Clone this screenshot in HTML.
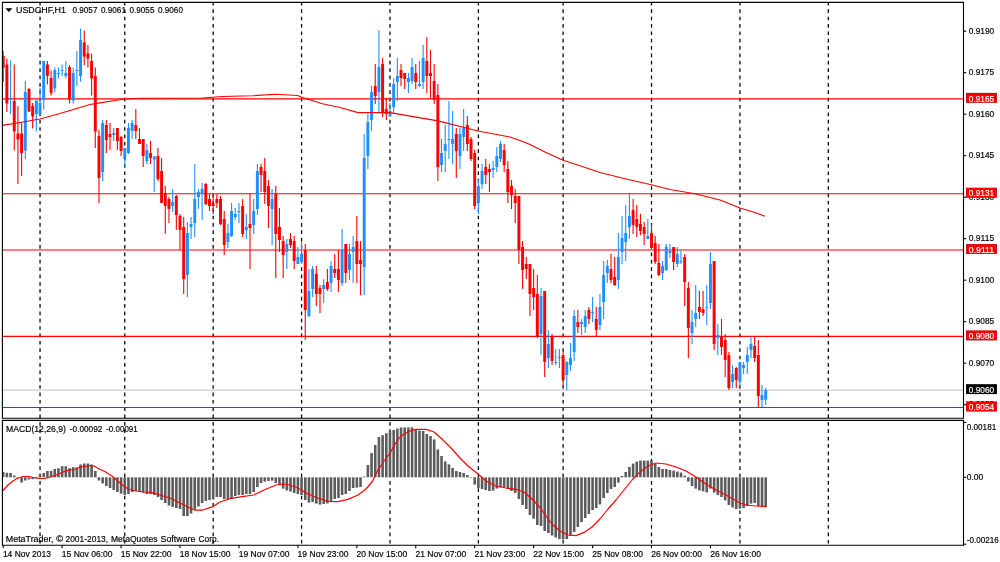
<!DOCTYPE html>
<html><head><meta charset="utf-8"><title>USDCHF,H1</title>
<style>html,body{margin:0;padding:0;background:#fff;overflow:hidden}svg{display:block}</style></head>
<body>
<svg width="1000" height="562" viewBox="0 0 1000 562">
<rect width="1000" height="562" fill="#fff"/>
<g stroke="#000" stroke-width="1.25" stroke-dasharray="3.685 3.685" fill="none">
<path d="M40.04 1.9V545.2"/>
<path d="M124.76 1.9V545.2"/>
<path d="M213.17 1.9V545.2"/>
<path d="M301.57 1.9V545.2"/>
<path d="M389.98 1.9V545.2"/>
<path d="M478.38 1.9V545.2"/>
<path d="M563.11 1.9V545.2"/>
<path d="M651.51 1.9V545.2"/>
<path d="M739.92 1.9V545.2"/>
<path d="M828.33 1.9V545.2"/>
</g>
<rect x="0" y="418.2" width="963.5" height="2.2" fill="#fff"/>
<g stroke="#ff0000" stroke-width="1.1" fill="none">
<path d="M2.4 98.9H963.5"/>
<path d="M2.4 193.8H963.5"/>
<path d="M2.4 250.0H963.5"/>
<path d="M2.4 336.4H963.5"/>
<path d="M2.4 407.5H963.5"/>
</g>
<path d="M2.4 390.1H963.5" stroke="#c0c0c0" stroke-width="1"/>
<clipPath id="cp"><rect x="2.9" y="2.4" width="960.6" height="542.8000000000001"/></clipPath>
<g clip-path="url(#cp)">
<path d="M3.20 51.0V82.0" stroke="#ff0000" stroke-width="1.1"/>
<rect x="1.73" y="56.0" width="2.94" height="12.0" fill="#ff0000"/>
<path d="M6.88 58.5V112.0" stroke="#ff0000" stroke-width="1.1"/>
<rect x="5.41" y="64.5" width="2.94" height="39.0" fill="#ff0000"/>
<path d="M10.57 60.5V114.0" stroke="#1e90ff" stroke-width="1.1"/>
<rect x="9.10" y="98.0" width="2.94" height="1.2" fill="#1e90ff"/>
<path d="M14.25 64.5V150.5" stroke="#ff0000" stroke-width="1.1"/>
<rect x="12.78" y="101.0" width="2.94" height="30.5" fill="#ff0000"/>
<path d="M17.93 106.0V184.0" stroke="#ff0000" stroke-width="1.1"/>
<rect x="16.46" y="133.5" width="2.94" height="6.0" fill="#ff0000"/>
<path d="M21.62 122.5V176.0" stroke="#ff0000" stroke-width="1.1"/>
<rect x="20.15" y="133.5" width="2.94" height="19.5" fill="#ff0000"/>
<path d="M25.30 81.0V159.0" stroke="#1e90ff" stroke-width="1.1"/>
<rect x="23.83" y="92.0" width="2.94" height="58.5" fill="#1e90ff"/>
<path d="M28.99 88.0V112.0" stroke="#ff0000" stroke-width="1.1"/>
<rect x="27.52" y="89.0" width="2.94" height="22.5" fill="#ff0000"/>
<path d="M32.67 103.0V128.5" stroke="#ff0000" stroke-width="1.1"/>
<rect x="31.20" y="106.0" width="2.94" height="10.5" fill="#ff0000"/>
<path d="M36.35 100.5V131.5" stroke="#1e90ff" stroke-width="1.1"/>
<rect x="34.88" y="100.5" width="2.94" height="13.5" fill="#1e90ff"/>
<path d="M40.04 88.0V115.0" stroke="#1e90ff" stroke-width="1.1"/>
<rect x="38.57" y="103.0" width="2.94" height="11.5" fill="#1e90ff"/>
<path d="M43.72 61.0V109.5" stroke="#1e90ff" stroke-width="1.1"/>
<rect x="42.25" y="61.0" width="2.94" height="39.0" fill="#1e90ff"/>
<path d="M47.40 61.0V84.5" stroke="#ff0000" stroke-width="1.1"/>
<rect x="45.93" y="64.5" width="2.94" height="11.5" fill="#ff0000"/>
<path d="M51.09 70.5V95.5" stroke="#ff0000" stroke-width="1.1"/>
<rect x="49.62" y="78.0" width="2.94" height="15.0" fill="#ff0000"/>
<path d="M54.77 67.5V92.5" stroke="#1e90ff" stroke-width="1.1"/>
<rect x="53.30" y="70.0" width="2.94" height="18.5" fill="#1e90ff"/>
<path d="M58.45 67.5V78.5" stroke="#1e90ff" stroke-width="1.1"/>
<rect x="56.98" y="73.0" width="2.94" height="1.0" fill="#1e90ff"/>
<path d="M62.14 64.5V76.0" stroke="#1e90ff" stroke-width="1.1"/>
<rect x="60.67" y="70.0" width="2.94" height="1.0" fill="#1e90ff"/>
<path d="M65.82 61.0V78.5" stroke="#1e90ff" stroke-width="1.1"/>
<rect x="64.35" y="73.0" width="2.94" height="3.0" fill="#1e90ff"/>
<path d="M69.50 65.0V103.5" stroke="#ff0000" stroke-width="1.1"/>
<rect x="68.03" y="67.0" width="2.94" height="32.5" fill="#ff0000"/>
<path d="M73.19 67.5V103.5" stroke="#1e90ff" stroke-width="1.1"/>
<rect x="71.72" y="73.0" width="2.94" height="27.5" fill="#1e90ff"/>
<path d="M76.87 51.0V86.0" stroke="#1e90ff" stroke-width="1.1"/>
<rect x="75.40" y="70.0" width="2.94" height="1.0" fill="#1e90ff"/>
<path d="M80.56 28.5V81.5" stroke="#1e90ff" stroke-width="1.1"/>
<rect x="79.09" y="40.0" width="2.94" height="36.0" fill="#1e90ff"/>
<path d="M84.24 30.5V65.0" stroke="#ff0000" stroke-width="1.1"/>
<rect x="82.77" y="42.5" width="2.94" height="14.0" fill="#ff0000"/>
<path d="M87.92 45.0V67.5" stroke="#ff0000" stroke-width="1.1"/>
<rect x="86.45" y="53.5" width="2.94" height="5.0" fill="#ff0000"/>
<path d="M91.61 53.5V95.5" stroke="#ff0000" stroke-width="1.1"/>
<rect x="90.14" y="61.0" width="2.94" height="17.5" fill="#ff0000"/>
<path d="M95.29 67.5V148.0" stroke="#ff0000" stroke-width="1.1"/>
<rect x="93.82" y="76.0" width="2.94" height="55.5" fill="#ff0000"/>
<path d="M98.97 130.0V203.0" stroke="#ff0000" stroke-width="1.1"/>
<rect x="97.50" y="136.0" width="2.94" height="42.0" fill="#ff0000"/>
<path d="M102.66 120.0V181.0" stroke="#1e90ff" stroke-width="1.1"/>
<rect x="101.19" y="123.0" width="2.94" height="49.0" fill="#1e90ff"/>
<path d="M106.34 120.0V153.0" stroke="#ff0000" stroke-width="1.1"/>
<rect x="104.87" y="125.0" width="2.94" height="15.0" fill="#ff0000"/>
<path d="M110.02 123.0V150.0" stroke="#ff0000" stroke-width="1.1"/>
<rect x="108.55" y="134.0" width="2.94" height="3.0" fill="#ff0000"/>
<path d="M113.71 128.0V141.0" stroke="#1e90ff" stroke-width="1.1"/>
<rect x="112.24" y="133.0" width="2.94" height="2.0" fill="#1e90ff"/>
<path d="M117.39 128.0V150.0" stroke="#ff0000" stroke-width="1.1"/>
<rect x="115.92" y="128.0" width="2.94" height="13.0" fill="#ff0000"/>
<path d="M121.08 136.0V156.0" stroke="#ff0000" stroke-width="1.1"/>
<rect x="119.61" y="137.0" width="2.94" height="14.0" fill="#ff0000"/>
<path d="M124.76 148.0V166.0" stroke="#1e90ff" stroke-width="1.1"/>
<rect x="123.29" y="148.0" width="2.94" height="11.0" fill="#1e90ff"/>
<path d="M128.44 123.0V154.0" stroke="#1e90ff" stroke-width="1.1"/>
<rect x="126.97" y="128.0" width="2.94" height="25.0" fill="#1e90ff"/>
<path d="M132.13 120.0V139.0" stroke="#1e90ff" stroke-width="1.1"/>
<rect x="130.66" y="123.0" width="2.94" height="8.0" fill="#1e90ff"/>
<path d="M135.81 109.0V139.0" stroke="#ff0000" stroke-width="1.1"/>
<rect x="134.34" y="125.0" width="2.94" height="6.0" fill="#ff0000"/>
<path d="M139.49 128.0V144.0" stroke="#ff0000" stroke-width="1.1"/>
<rect x="138.02" y="139.0" width="2.94" height="5.0" fill="#ff0000"/>
<path d="M143.18 139.0V167.0" stroke="#ff0000" stroke-width="1.1"/>
<rect x="141.71" y="139.0" width="2.94" height="17.0" fill="#ff0000"/>
<path d="M146.86 144.0V164.0" stroke="#1e90ff" stroke-width="1.1"/>
<rect x="145.39" y="150.0" width="2.94" height="11.0" fill="#1e90ff"/>
<path d="M150.54 141.0V164.0" stroke="#ff0000" stroke-width="1.1"/>
<rect x="149.07" y="153.0" width="2.94" height="5.0" fill="#ff0000"/>
<path d="M154.23 156.0V192.0" stroke="#1e90ff" stroke-width="1.1"/>
<rect x="152.76" y="156.5" width="2.94" height="3.0" fill="#1e90ff"/>
<path d="M157.91 148.0V181.0" stroke="#ff0000" stroke-width="1.1"/>
<rect x="156.44" y="156.0" width="2.94" height="23.0" fill="#ff0000"/>
<path d="M161.59 158.0V203.0" stroke="#ff0000" stroke-width="1.1"/>
<rect x="160.12" y="171.0" width="2.94" height="32.0" fill="#ff0000"/>
<path d="M165.28 186.0V234.0" stroke="#ff0000" stroke-width="1.1"/>
<rect x="163.81" y="193.0" width="2.94" height="13.0" fill="#ff0000"/>
<path d="M168.96 197.0V223.0" stroke="#ff0000" stroke-width="1.1"/>
<rect x="167.49" y="199.0" width="2.94" height="10.0" fill="#ff0000"/>
<path d="M172.65 189.0V212.0" stroke="#1e90ff" stroke-width="1.1"/>
<rect x="171.18" y="202.0" width="2.94" height="4.0" fill="#1e90ff"/>
<path d="M176.33 195.0V230.0" stroke="#ff0000" stroke-width="1.1"/>
<rect x="174.86" y="196.0" width="2.94" height="19.0" fill="#ff0000"/>
<path d="M180.01 214.0V250.0" stroke="#ff0000" stroke-width="1.1"/>
<rect x="178.54" y="216.0" width="2.94" height="14.0" fill="#ff0000"/>
<path d="M183.70 217.0V294.0" stroke="#ff0000" stroke-width="1.1"/>
<rect x="182.23" y="227.0" width="2.94" height="52.0" fill="#ff0000"/>
<path d="M187.38 222.0V297.0" stroke="#1e90ff" stroke-width="1.1"/>
<rect x="185.91" y="233.0" width="2.94" height="42.0" fill="#1e90ff"/>
<path d="M191.06 217.0V239.0" stroke="#1e90ff" stroke-width="1.1"/>
<rect x="189.59" y="224.0" width="2.94" height="3.0" fill="#1e90ff"/>
<path d="M194.75 164.0V237.0" stroke="#1e90ff" stroke-width="1.1"/>
<rect x="193.28" y="199.0" width="2.94" height="24.0" fill="#1e90ff"/>
<path d="M198.43 189.0V209.0" stroke="#1e90ff" stroke-width="1.1"/>
<rect x="196.96" y="192.0" width="2.94" height="5.0" fill="#1e90ff"/>
<path d="M202.11 183.0V220.0" stroke="#1e90ff" stroke-width="1.1"/>
<rect x="200.64" y="189.0" width="2.94" height="5.0" fill="#1e90ff"/>
<path d="M205.80 183.0V205.0" stroke="#ff0000" stroke-width="1.1"/>
<rect x="204.33" y="184.0" width="2.94" height="20.0" fill="#ff0000"/>
<path d="M209.48 194.0V211.0" stroke="#ff0000" stroke-width="1.1"/>
<rect x="208.01" y="199.0" width="2.94" height="7.0" fill="#ff0000"/>
<path d="M213.17 194.0V214.0" stroke="#ff0000" stroke-width="1.1"/>
<rect x="211.70" y="203.0" width="2.94" height="3.0" fill="#ff0000"/>
<path d="M216.85 194.0V208.0" stroke="#ff0000" stroke-width="1.1"/>
<rect x="215.38" y="199.0" width="2.94" height="4.0" fill="#ff0000"/>
<path d="M220.53 196.0V225.0" stroke="#ff0000" stroke-width="1.1"/>
<rect x="219.06" y="199.0" width="2.94" height="25.0" fill="#ff0000"/>
<path d="M224.22 211.0V255.0" stroke="#ff0000" stroke-width="1.1"/>
<rect x="222.75" y="219.0" width="2.94" height="26.0" fill="#ff0000"/>
<path d="M227.90 224.0V248.0" stroke="#1e90ff" stroke-width="1.1"/>
<rect x="226.43" y="233.0" width="2.94" height="9.0" fill="#1e90ff"/>
<path d="M231.58 203.0V237.0" stroke="#1e90ff" stroke-width="1.1"/>
<rect x="230.11" y="211.0" width="2.94" height="25.0" fill="#1e90ff"/>
<path d="M235.27 208.0V220.0" stroke="#1e90ff" stroke-width="1.1"/>
<rect x="233.80" y="214.0" width="2.94" height="3.0" fill="#1e90ff"/>
<path d="M238.95 203.0V223.0" stroke="#1e90ff" stroke-width="1.1"/>
<rect x="237.48" y="211.0" width="2.94" height="1.0" fill="#1e90ff"/>
<path d="M242.63 199.0V237.0" stroke="#ff0000" stroke-width="1.1"/>
<rect x="241.16" y="206.0" width="2.94" height="28.0" fill="#ff0000"/>
<path d="M246.32 214.0V239.0" stroke="#1e90ff" stroke-width="1.1"/>
<rect x="244.85" y="227.0" width="2.94" height="3.0" fill="#1e90ff"/>
<path d="M250.00 193.6V269.0" stroke="#ff0000" stroke-width="1.1"/>
<rect x="248.53" y="224.0" width="2.94" height="4.0" fill="#ff0000"/>
<path d="M253.68 199.0V234.0" stroke="#1e90ff" stroke-width="1.1"/>
<rect x="252.21" y="211.0" width="2.94" height="14.0" fill="#1e90ff"/>
<path d="M257.37 164.0V215.0" stroke="#1e90ff" stroke-width="1.1"/>
<rect x="255.90" y="171.0" width="2.94" height="38.0" fill="#1e90ff"/>
<path d="M261.05 164.0V192.0" stroke="#ff0000" stroke-width="1.1"/>
<rect x="259.58" y="167.0" width="2.94" height="8.0" fill="#ff0000"/>
<path d="M264.74 158.0V204.0" stroke="#ff0000" stroke-width="1.1"/>
<rect x="263.27" y="171.0" width="2.94" height="21.0" fill="#ff0000"/>
<path d="M268.42 180.0V228.0" stroke="#ff0000" stroke-width="1.1"/>
<rect x="266.95" y="186.0" width="2.94" height="20.0" fill="#ff0000"/>
<path d="M272.10 189.0V245.0" stroke="#1e90ff" stroke-width="1.1"/>
<rect x="270.63" y="199.0" width="2.94" height="10.0" fill="#1e90ff"/>
<path d="M275.79 186.0V278.0" stroke="#ff0000" stroke-width="1.1"/>
<rect x="274.32" y="193.6" width="2.94" height="40.4" fill="#ff0000"/>
<path d="M279.47 208.0V252.0" stroke="#ff0000" stroke-width="1.1"/>
<rect x="278.00" y="227.0" width="2.94" height="13.0" fill="#ff0000"/>
<path d="M283.15 236.0V278.0" stroke="#ff0000" stroke-width="1.1"/>
<rect x="281.68" y="241.0" width="2.94" height="14.0" fill="#ff0000"/>
<path d="M286.84 239.0V269.0" stroke="#1e90ff" stroke-width="1.1"/>
<rect x="285.37" y="244.0" width="2.94" height="8.0" fill="#1e90ff"/>
<path d="M290.52 233.0V248.0" stroke="#ff0000" stroke-width="1.1"/>
<rect x="289.05" y="239.0" width="2.94" height="6.0" fill="#ff0000"/>
<path d="M294.20 236.0V269.0" stroke="#ff0000" stroke-width="1.1"/>
<rect x="292.73" y="241.0" width="2.94" height="20.0" fill="#ff0000"/>
<path d="M297.89 247.0V264.0" stroke="#1e90ff" stroke-width="1.1"/>
<rect x="296.42" y="257.0" width="2.94" height="7.0" fill="#1e90ff"/>
<path d="M301.57 241.0V263.0" stroke="#1e90ff" stroke-width="1.1"/>
<rect x="300.10" y="254.0" width="2.94" height="8.0" fill="#1e90ff"/>
<path d="M305.26 244.0V340.0" stroke="#ff0000" stroke-width="1.1"/>
<rect x="303.79" y="250.0" width="2.94" height="60.0" fill="#ff0000"/>
<path d="M308.94 269.0V317.0" stroke="#1e90ff" stroke-width="1.1"/>
<rect x="307.47" y="291.0" width="2.94" height="25.0" fill="#1e90ff"/>
<path d="M312.62 266.0V297.0" stroke="#1e90ff" stroke-width="1.1"/>
<rect x="311.15" y="269.0" width="2.94" height="20.0" fill="#1e90ff"/>
<path d="M316.31 266.0V306.0" stroke="#ff0000" stroke-width="1.1"/>
<rect x="314.84" y="274.0" width="2.94" height="20.0" fill="#ff0000"/>
<path d="M319.99 285.0V313.0" stroke="#ff0000" stroke-width="1.1"/>
<rect x="318.52" y="288.0" width="2.94" height="6.0" fill="#ff0000"/>
<path d="M323.67 279.0V303.0" stroke="#1e90ff" stroke-width="1.1"/>
<rect x="322.20" y="285.0" width="2.94" height="4.0" fill="#1e90ff"/>
<path d="M327.36 269.0V291.0" stroke="#ff0000" stroke-width="1.1"/>
<rect x="325.89" y="282.0" width="2.94" height="7.0" fill="#ff0000"/>
<path d="M331.04 261.0V292.0" stroke="#1e90ff" stroke-width="1.1"/>
<rect x="329.57" y="266.0" width="2.94" height="17.0" fill="#1e90ff"/>
<path d="M334.72 254.0V278.0" stroke="#ff0000" stroke-width="1.1"/>
<rect x="333.25" y="269.0" width="2.94" height="4.0" fill="#ff0000"/>
<path d="M338.41 250.0V292.0" stroke="#ff0000" stroke-width="1.1"/>
<rect x="336.94" y="269.0" width="2.94" height="11.0" fill="#ff0000"/>
<path d="M342.09 229.0V286.0" stroke="#1e90ff" stroke-width="1.1"/>
<rect x="340.62" y="250.0" width="2.94" height="33.0" fill="#1e90ff"/>
<path d="M345.77 244.0V283.0" stroke="#ff0000" stroke-width="1.1"/>
<rect x="344.30" y="244.0" width="2.94" height="29.0" fill="#ff0000"/>
<path d="M349.46 244.0V280.0" stroke="#1e90ff" stroke-width="1.1"/>
<rect x="347.99" y="254.0" width="2.94" height="16.0" fill="#1e90ff"/>
<path d="M353.14 236.0V283.0" stroke="#1e90ff" stroke-width="1.1"/>
<rect x="351.67" y="247.0" width="2.94" height="5.0" fill="#1e90ff"/>
<path d="M356.83 216.0V283.0" stroke="#ff0000" stroke-width="1.1"/>
<rect x="355.36" y="241.0" width="2.94" height="23.0" fill="#ff0000"/>
<path d="M360.51 241.0V295.0" stroke="#ff0000" stroke-width="1.1"/>
<rect x="359.04" y="260.0" width="2.94" height="4.0" fill="#ff0000"/>
<path d="M364.19 134.0V295.0" stroke="#1e90ff" stroke-width="1.1"/>
<rect x="362.72" y="158.0" width="2.94" height="109.0" fill="#1e90ff"/>
<path d="M367.88 114.0V169.0" stroke="#1e90ff" stroke-width="1.1"/>
<rect x="366.41" y="122.0" width="2.94" height="34.0" fill="#1e90ff"/>
<path d="M371.56 86.0V131.0" stroke="#1e90ff" stroke-width="1.1"/>
<rect x="370.09" y="92.0" width="2.94" height="28.0" fill="#1e90ff"/>
<path d="M375.24 64.0V104.0" stroke="#ff0000" stroke-width="1.1"/>
<rect x="373.77" y="86.0" width="2.94" height="10.0" fill="#ff0000"/>
<path d="M378.93 30.0V112.0" stroke="#1e90ff" stroke-width="1.1"/>
<rect x="377.46" y="67.0" width="2.94" height="25.0" fill="#1e90ff"/>
<path d="M382.61 58.0V117.0" stroke="#ff0000" stroke-width="1.1"/>
<rect x="381.14" y="64.0" width="2.94" height="49.0" fill="#ff0000"/>
<path d="M386.29 98.0V120.0" stroke="#ff0000" stroke-width="1.1"/>
<rect x="384.82" y="109.0" width="2.94" height="5.0" fill="#ff0000"/>
<path d="M389.98 103.0V117.0" stroke="#1e90ff" stroke-width="1.1"/>
<rect x="388.51" y="111.0" width="2.94" height="5.0" fill="#1e90ff"/>
<path d="M393.66 78.0V113.0" stroke="#1e90ff" stroke-width="1.1"/>
<rect x="392.19" y="84.0" width="2.94" height="23.0" fill="#1e90ff"/>
<path d="M397.35 58.0V101.0" stroke="#1e90ff" stroke-width="1.1"/>
<rect x="395.88" y="76.0" width="2.94" height="6.0" fill="#1e90ff"/>
<path d="M401.03 64.0V86.0" stroke="#ff0000" stroke-width="1.1"/>
<rect x="399.56" y="70.0" width="2.94" height="8.0" fill="#ff0000"/>
<path d="M404.71 73.0V89.0" stroke="#ff0000" stroke-width="1.1"/>
<rect x="403.24" y="73.0" width="2.94" height="6.0" fill="#ff0000"/>
<path d="M408.40 73.0V93.0" stroke="#1e90ff" stroke-width="1.1"/>
<rect x="406.93" y="78.0" width="2.94" height="4.0" fill="#1e90ff"/>
<path d="M412.08 58.0V84.0" stroke="#1e90ff" stroke-width="1.1"/>
<rect x="410.61" y="67.0" width="2.94" height="14.0" fill="#1e90ff"/>
<path d="M415.76 64.0V89.0" stroke="#ff0000" stroke-width="1.1"/>
<rect x="414.29" y="73.0" width="2.94" height="9.0" fill="#ff0000"/>
<path d="M419.45 61.0V87.0" stroke="#1e90ff" stroke-width="1.1"/>
<rect x="417.98" y="84.0" width="2.94" height="2.0" fill="#1e90ff"/>
<path d="M423.13 45.0V89.0" stroke="#1e90ff" stroke-width="1.1"/>
<rect x="421.66" y="58.0" width="2.94" height="24.0" fill="#1e90ff"/>
<path d="M426.81 37.0V93.0" stroke="#ff0000" stroke-width="1.1"/>
<rect x="425.34" y="61.0" width="2.94" height="15.0" fill="#ff0000"/>
<path d="M430.50 50.0V99.0" stroke="#ff0000" stroke-width="1.1"/>
<rect x="429.03" y="73.0" width="2.94" height="3.0" fill="#ff0000"/>
<path d="M434.18 64.0V104.0" stroke="#ff0000" stroke-width="1.1"/>
<rect x="432.71" y="81.0" width="2.94" height="19.0" fill="#ff0000"/>
<path d="M437.86 84.0V181.0" stroke="#ff0000" stroke-width="1.1"/>
<rect x="436.39" y="95.0" width="2.94" height="72.0" fill="#ff0000"/>
<path d="M441.55 139.0V172.0" stroke="#1e90ff" stroke-width="1.1"/>
<rect x="440.08" y="153.0" width="2.94" height="12.0" fill="#1e90ff"/>
<path d="M445.23 125.0V172.0" stroke="#1e90ff" stroke-width="1.1"/>
<rect x="443.76" y="144.0" width="2.94" height="7.0" fill="#1e90ff"/>
<path d="M448.92 101.0V159.0" stroke="#1e90ff" stroke-width="1.1"/>
<rect x="447.45" y="139.0" width="2.94" height="1.0" fill="#1e90ff"/>
<path d="M452.60 111.0V164.0" stroke="#1e90ff" stroke-width="1.1"/>
<rect x="451.13" y="139.0" width="2.94" height="5.0" fill="#1e90ff"/>
<path d="M456.28 128.0V178.0" stroke="#ff0000" stroke-width="1.1"/>
<rect x="454.81" y="134.0" width="2.94" height="17.0" fill="#ff0000"/>
<path d="M459.97 128.0V169.0" stroke="#1e90ff" stroke-width="1.1"/>
<rect x="458.50" y="134.0" width="2.94" height="22.0" fill="#1e90ff"/>
<path d="M463.65 109.0V151.0" stroke="#1e90ff" stroke-width="1.1"/>
<rect x="462.18" y="128.0" width="2.94" height="9.0" fill="#1e90ff"/>
<path d="M467.33 116.0V151.0" stroke="#ff0000" stroke-width="1.1"/>
<rect x="465.86" y="125.0" width="2.94" height="19.0" fill="#ff0000"/>
<path d="M471.02 137.0V161.0" stroke="#ff0000" stroke-width="1.1"/>
<rect x="469.55" y="139.0" width="2.94" height="20.0" fill="#ff0000"/>
<path d="M474.70 150.0V209.0" stroke="#ff0000" stroke-width="1.1"/>
<rect x="473.23" y="153.0" width="2.94" height="53.0" fill="#ff0000"/>
<path d="M478.38 180.0V214.0" stroke="#1e90ff" stroke-width="1.1"/>
<rect x="476.91" y="186.0" width="2.94" height="17.0" fill="#1e90ff"/>
<path d="M482.07 164.0V189.0" stroke="#1e90ff" stroke-width="1.1"/>
<rect x="480.60" y="171.0" width="2.94" height="13.0" fill="#1e90ff"/>
<path d="M485.75 159.0V184.0" stroke="#ff0000" stroke-width="1.1"/>
<rect x="484.28" y="167.0" width="2.94" height="8.0" fill="#ff0000"/>
<path d="M489.44 164.0V192.0" stroke="#ff0000" stroke-width="1.1"/>
<rect x="487.97" y="169.0" width="2.94" height="3.0" fill="#ff0000"/>
<path d="M493.12 161.0V178.0" stroke="#1e90ff" stroke-width="1.1"/>
<rect x="491.65" y="168.0" width="2.94" height="2.0" fill="#1e90ff"/>
<path d="M496.80 147.0V172.0" stroke="#1e90ff" stroke-width="1.1"/>
<rect x="495.33" y="156.0" width="2.94" height="11.0" fill="#1e90ff"/>
<path d="M500.49 141.0V162.0" stroke="#1e90ff" stroke-width="1.1"/>
<rect x="499.02" y="144.0" width="2.94" height="15.0" fill="#1e90ff"/>
<path d="M504.17 144.0V172.0" stroke="#ff0000" stroke-width="1.1"/>
<rect x="502.70" y="150.0" width="2.94" height="15.0" fill="#ff0000"/>
<path d="M507.85 161.0V203.0" stroke="#ff0000" stroke-width="1.1"/>
<rect x="506.38" y="169.0" width="2.94" height="23.0" fill="#ff0000"/>
<path d="M511.54 180.0V209.0" stroke="#ff0000" stroke-width="1.1"/>
<rect x="510.07" y="186.0" width="2.94" height="9.0" fill="#ff0000"/>
<path d="M515.22 189.0V223.0" stroke="#ff0000" stroke-width="1.1"/>
<rect x="513.75" y="196.0" width="2.94" height="7.0" fill="#ff0000"/>
<path d="M518.90 196.0V264.0" stroke="#ff0000" stroke-width="1.1"/>
<rect x="517.43" y="196.0" width="2.94" height="54.0" fill="#ff0000"/>
<path d="M522.59 241.0V289.0" stroke="#ff0000" stroke-width="1.1"/>
<rect x="521.12" y="247.0" width="2.94" height="23.0" fill="#ff0000"/>
<path d="M526.27 257.0V279.0" stroke="#ff0000" stroke-width="1.1"/>
<rect x="524.80" y="264.0" width="2.94" height="5.0" fill="#ff0000"/>
<path d="M529.95 264.0V316.0" stroke="#ff0000" stroke-width="1.1"/>
<rect x="528.48" y="264.0" width="2.94" height="30.0" fill="#ff0000"/>
<path d="M533.64 269.0V310.0" stroke="#ff0000" stroke-width="1.1"/>
<rect x="532.17" y="288.0" width="2.94" height="9.0" fill="#ff0000"/>
<path d="M537.32 275.0V338.0" stroke="#ff0000" stroke-width="1.1"/>
<rect x="535.85" y="294.0" width="2.94" height="43.0" fill="#ff0000"/>
<path d="M541.01 288.0V355.0" stroke="#1e90ff" stroke-width="1.1"/>
<rect x="539.54" y="296.0" width="2.94" height="38.0" fill="#1e90ff"/>
<path d="M544.69 291.0V377.0" stroke="#ff0000" stroke-width="1.1"/>
<rect x="543.22" y="291.0" width="2.94" height="71.0" fill="#ff0000"/>
<path d="M548.37 330.0V368.0" stroke="#1e90ff" stroke-width="1.1"/>
<rect x="546.90" y="344.0" width="2.94" height="14.0" fill="#1e90ff"/>
<path d="M552.06 334.0V365.0" stroke="#ff0000" stroke-width="1.1"/>
<rect x="550.59" y="336.0" width="2.94" height="25.0" fill="#ff0000"/>
<path d="M555.74 349.0V365.0" stroke="#1e90ff" stroke-width="1.1"/>
<rect x="554.27" y="362.0" width="2.94" height="1.0" fill="#1e90ff"/>
<path d="M559.42 349.0V368.0" stroke="#1e90ff" stroke-width="1.1"/>
<rect x="557.95" y="357.0" width="2.94" height="1.0" fill="#1e90ff"/>
<path d="M563.11 352.0V386.0" stroke="#ff0000" stroke-width="1.1"/>
<rect x="561.64" y="355.0" width="2.94" height="25.0" fill="#ff0000"/>
<path d="M566.79 361.0V390.0" stroke="#1e90ff" stroke-width="1.1"/>
<rect x="565.32" y="362.0" width="2.94" height="13.0" fill="#1e90ff"/>
<path d="M570.47 343.0V371.0" stroke="#1e90ff" stroke-width="1.1"/>
<rect x="569.00" y="358.0" width="2.94" height="7.0" fill="#1e90ff"/>
<path d="M574.16 310.0V361.0" stroke="#1e90ff" stroke-width="1.1"/>
<rect x="572.69" y="316.0" width="2.94" height="36.0" fill="#1e90ff"/>
<path d="M577.84 310.0V333.0" stroke="#ff0000" stroke-width="1.1"/>
<rect x="576.37" y="322.0" width="2.94" height="5.0" fill="#ff0000"/>
<path d="M581.53 319.0V335.0" stroke="#1e90ff" stroke-width="1.1"/>
<rect x="580.06" y="322.0" width="2.94" height="2.0" fill="#1e90ff"/>
<path d="M585.21 310.0V333.0" stroke="#1e90ff" stroke-width="1.1"/>
<rect x="583.74" y="316.0" width="2.94" height="11.0" fill="#1e90ff"/>
<path d="M588.89 307.0V324.0" stroke="#ff0000" stroke-width="1.1"/>
<rect x="587.42" y="310.0" width="2.94" height="9.0" fill="#ff0000"/>
<path d="M592.58 297.0V322.0" stroke="#1e90ff" stroke-width="1.1"/>
<rect x="591.11" y="312.0" width="2.94" height="1.0" fill="#1e90ff"/>
<path d="M596.26 307.0V337.0" stroke="#ff0000" stroke-width="1.1"/>
<rect x="594.79" y="319.0" width="2.94" height="11.0" fill="#ff0000"/>
<path d="M599.94 294.0V330.0" stroke="#1e90ff" stroke-width="1.1"/>
<rect x="598.47" y="307.0" width="2.94" height="18.0" fill="#1e90ff"/>
<path d="M603.63 261.0V319.0" stroke="#1e90ff" stroke-width="1.1"/>
<rect x="602.16" y="275.0" width="2.94" height="27.0" fill="#1e90ff"/>
<path d="M607.31 260.0V283.0" stroke="#1e90ff" stroke-width="1.1"/>
<rect x="605.84" y="266.0" width="2.94" height="7.0" fill="#1e90ff"/>
<path d="M610.99 254.0V283.0" stroke="#ff0000" stroke-width="1.1"/>
<rect x="609.52" y="269.0" width="2.94" height="11.0" fill="#ff0000"/>
<path d="M614.68 257.0V286.0" stroke="#ff0000" stroke-width="1.1"/>
<rect x="613.21" y="277.0" width="2.94" height="8.0" fill="#ff0000"/>
<path d="M618.36 233.0V289.0" stroke="#1e90ff" stroke-width="1.1"/>
<rect x="616.89" y="257.0" width="2.94" height="23.0" fill="#1e90ff"/>
<path d="M622.04 216.0V264.0" stroke="#1e90ff" stroke-width="1.1"/>
<rect x="620.57" y="238.0" width="2.94" height="14.0" fill="#1e90ff"/>
<path d="M625.73 205.0V261.0" stroke="#1e90ff" stroke-width="1.1"/>
<rect x="624.26" y="233.0" width="2.94" height="9.0" fill="#1e90ff"/>
<path d="M629.41 194.0V239.0" stroke="#1e90ff" stroke-width="1.1"/>
<rect x="627.94" y="216.0" width="2.94" height="11.0" fill="#1e90ff"/>
<path d="M633.10 199.0V234.0" stroke="#ff0000" stroke-width="1.1"/>
<rect x="631.63" y="210.0" width="2.94" height="15.0" fill="#ff0000"/>
<path d="M636.78 205.0V237.0" stroke="#ff0000" stroke-width="1.1"/>
<rect x="635.31" y="219.0" width="2.94" height="8.0" fill="#ff0000"/>
<path d="M640.46 214.0V235.0" stroke="#ff0000" stroke-width="1.1"/>
<rect x="638.99" y="224.0" width="2.94" height="7.0" fill="#ff0000"/>
<path d="M644.15 222.0V245.0" stroke="#ff0000" stroke-width="1.1"/>
<rect x="642.68" y="227.0" width="2.94" height="7.0" fill="#ff0000"/>
<path d="M647.83 219.0V239.0" stroke="#1e90ff" stroke-width="1.1"/>
<rect x="646.36" y="236.0" width="2.94" height="3.0" fill="#1e90ff"/>
<path d="M651.51 224.0V249.0" stroke="#ff0000" stroke-width="1.1"/>
<rect x="650.04" y="233.0" width="2.94" height="15.0" fill="#ff0000"/>
<path d="M655.20 236.0V264.0" stroke="#ff0000" stroke-width="1.1"/>
<rect x="653.73" y="243.0" width="2.94" height="19.0" fill="#ff0000"/>
<path d="M658.88 244.0V276.0" stroke="#ff0000" stroke-width="1.1"/>
<rect x="657.41" y="263.0" width="2.94" height="12.0" fill="#ff0000"/>
<path d="M662.56 261.0V280.0" stroke="#1e90ff" stroke-width="1.1"/>
<rect x="661.09" y="266.0" width="2.94" height="7.0" fill="#1e90ff"/>
<path d="M666.25 244.0V271.0" stroke="#1e90ff" stroke-width="1.1"/>
<rect x="664.78" y="247.0" width="2.94" height="23.0" fill="#1e90ff"/>
<path d="M669.93 244.0V258.0" stroke="#1e90ff" stroke-width="1.1"/>
<rect x="668.46" y="251.0" width="2.94" height="2.0" fill="#1e90ff"/>
<path d="M673.62 247.0V270.0" stroke="#ff0000" stroke-width="1.1"/>
<rect x="672.15" y="247.0" width="2.94" height="15.0" fill="#ff0000"/>
<path d="M677.30 247.0V267.0" stroke="#1e90ff" stroke-width="1.1"/>
<rect x="675.83" y="254.0" width="2.94" height="10.0" fill="#1e90ff"/>
<path d="M680.98 250.0V264.0" stroke="#1e90ff" stroke-width="1.1"/>
<rect x="679.51" y="261.0" width="2.94" height="1.0" fill="#1e90ff"/>
<path d="M684.67 254.0V306.0" stroke="#ff0000" stroke-width="1.1"/>
<rect x="683.20" y="257.0" width="2.94" height="25.0" fill="#ff0000"/>
<path d="M688.35 282.0V358.0" stroke="#ff0000" stroke-width="1.1"/>
<rect x="686.88" y="288.0" width="2.94" height="40.0" fill="#ff0000"/>
<path d="M692.03 310.0V344.0" stroke="#1e90ff" stroke-width="1.1"/>
<rect x="690.56" y="322.0" width="2.94" height="11.0" fill="#1e90ff"/>
<path d="M695.72 285.0V327.0" stroke="#1e90ff" stroke-width="1.1"/>
<rect x="694.25" y="313.0" width="2.94" height="6.0" fill="#1e90ff"/>
<path d="M699.40 291.0V319.0" stroke="#ff0000" stroke-width="1.1"/>
<rect x="697.93" y="307.0" width="2.94" height="5.0" fill="#ff0000"/>
<path d="M703.08 291.0V316.0" stroke="#ff0000" stroke-width="1.1"/>
<rect x="701.61" y="309.0" width="2.94" height="4.0" fill="#ff0000"/>
<path d="M706.77 285.0V325.0" stroke="#1e90ff" stroke-width="1.1"/>
<rect x="705.30" y="307.0" width="2.94" height="1.0" fill="#1e90ff"/>
<path d="M710.45 252.0V309.0" stroke="#1e90ff" stroke-width="1.1"/>
<rect x="708.98" y="264.0" width="2.94" height="39.0" fill="#1e90ff"/>
<path d="M714.13 261.0V350.0" stroke="#ff0000" stroke-width="1.1"/>
<rect x="712.66" y="261.0" width="2.94" height="83.0" fill="#ff0000"/>
<path d="M717.82 324.0V355.0" stroke="#1e90ff" stroke-width="1.1"/>
<rect x="716.35" y="335.0" width="2.94" height="3.0" fill="#1e90ff"/>
<path d="M721.50 319.0V355.0" stroke="#ff0000" stroke-width="1.1"/>
<rect x="720.03" y="336.6" width="2.94" height="10.4" fill="#ff0000"/>
<path d="M725.19 334.0V377.0" stroke="#ff0000" stroke-width="1.1"/>
<rect x="723.72" y="340.0" width="2.94" height="20.0" fill="#ff0000"/>
<path d="M728.87 352.0V390.0" stroke="#ff0000" stroke-width="1.1"/>
<rect x="727.40" y="355.0" width="2.94" height="33.0" fill="#ff0000"/>
<path d="M732.55 365.0V388.0" stroke="#1e90ff" stroke-width="1.1"/>
<rect x="731.08" y="374.0" width="2.94" height="8.0" fill="#1e90ff"/>
<path d="M736.24 367.0V388.0" stroke="#ff0000" stroke-width="1.1"/>
<rect x="734.77" y="368.0" width="2.94" height="12.0" fill="#ff0000"/>
<path d="M739.92 362.0V386.0" stroke="#1e90ff" stroke-width="1.1"/>
<rect x="738.45" y="362.0" width="2.94" height="20.0" fill="#1e90ff"/>
<path d="M743.60 362.0V374.0" stroke="#1e90ff" stroke-width="1.1"/>
<rect x="742.13" y="365.0" width="2.94" height="3.0" fill="#1e90ff"/>
<path d="M747.29 347.0V374.0" stroke="#1e90ff" stroke-width="1.1"/>
<rect x="745.82" y="355.0" width="2.94" height="7.0" fill="#1e90ff"/>
<path d="M750.97 336.6V358.0" stroke="#1e90ff" stroke-width="1.1"/>
<rect x="749.50" y="344.0" width="2.94" height="6.0" fill="#1e90ff"/>
<path d="M754.65 336.6V362.0" stroke="#ff0000" stroke-width="1.1"/>
<rect x="753.18" y="346.0" width="2.94" height="12.0" fill="#ff0000"/>
<path d="M758.34 340.0V407.5" stroke="#ff0000" stroke-width="1.1"/>
<rect x="756.87" y="355.0" width="2.94" height="41.0" fill="#ff0000"/>
<path d="M762.02 385.0V407.0" stroke="#1e90ff" stroke-width="1.1"/>
<rect x="760.55" y="395.0" width="2.94" height="5.0" fill="#1e90ff"/>
<path d="M765.71 388.0V405.0" stroke="#1e90ff" stroke-width="1.1"/>
<rect x="764.24" y="390.0" width="2.94" height="9.8" fill="#1e90ff"/>
<polyline fill="none" stroke="#ff0000" stroke-width="1.2" stroke-linejoin="round" points="2.4,125.3 20,122.5 40,119 60,113.5 90,104.5 100,102.8 115,100.5 125,99 140,98.25 202.5,98 222.5,96.5 252.5,95.75 275,94.25 297.5,95.5 302.5,97.5 322.5,103.75 340,107.5 358,112.6 390,112.6 438,120.8 478,131 510,137 520,140.5 530,144.5 545,152 562.5,160 580,165.75 600,172.5 625,178.75 652.5,185 670,189.5 695,193.75 720,200 740,208 755,212.5 765,216.25"/>
<rect x="1.90" y="472.0" width="2.6" height="5.3" fill="#5c5c5c"/>
<rect x="5.58" y="472.8" width="2.6" height="4.5" fill="#5c5c5c"/>
<rect x="9.27" y="473.0" width="2.6" height="4.3" fill="#5c5c5c"/>
<rect x="12.95" y="475.5" width="2.6" height="1.8" fill="#5c5c5c"/>
<rect x="16.63" y="477.3" width="2.6" height="0.5" fill="#5c5c5c"/>
<rect x="20.32" y="477.3" width="2.6" height="5.2" fill="#5c5c5c"/>
<rect x="24.00" y="477.3" width="2.6" height="3.2" fill="#5c5c5c"/>
<rect x="27.69" y="477.3" width="2.6" height="2.2" fill="#5c5c5c"/>
<rect x="31.37" y="477.3" width="2.6" height="1.9" fill="#5c5c5c"/>
<rect x="35.05" y="477.3" width="2.6" height="1.2" fill="#5c5c5c"/>
<rect x="38.74" y="475.0" width="2.6" height="2.3" fill="#5c5c5c"/>
<rect x="42.42" y="473.0" width="2.6" height="4.3" fill="#5c5c5c"/>
<rect x="46.10" y="471.0" width="2.6" height="6.3" fill="#5c5c5c"/>
<rect x="49.79" y="471.0" width="2.6" height="6.3" fill="#5c5c5c"/>
<rect x="53.47" y="469.0" width="2.6" height="8.3" fill="#5c5c5c"/>
<rect x="57.15" y="468.2" width="2.6" height="9.1" fill="#5c5c5c"/>
<rect x="60.84" y="466.2" width="2.6" height="11.1" fill="#5c5c5c"/>
<rect x="64.52" y="466.2" width="2.6" height="11.1" fill="#5c5c5c"/>
<rect x="68.20" y="468.2" width="2.6" height="9.1" fill="#5c5c5c"/>
<rect x="71.89" y="467.2" width="2.6" height="10.1" fill="#5c5c5c"/>
<rect x="75.57" y="467.5" width="2.6" height="9.8" fill="#5c5c5c"/>
<rect x="79.26" y="464.5" width="2.6" height="12.8" fill="#5c5c5c"/>
<rect x="82.94" y="463.5" width="2.6" height="13.8" fill="#5c5c5c"/>
<rect x="86.62" y="463.5" width="2.6" height="13.8" fill="#5c5c5c"/>
<rect x="90.31" y="464.5" width="2.6" height="12.8" fill="#5c5c5c"/>
<rect x="93.99" y="471.0" width="2.6" height="6.3" fill="#5c5c5c"/>
<rect x="97.67" y="477.3" width="2.6" height="3.2" fill="#5c5c5c"/>
<rect x="101.36" y="477.3" width="2.6" height="6.1" fill="#5c5c5c"/>
<rect x="105.04" y="477.3" width="2.6" height="8.7" fill="#5c5c5c"/>
<rect x="108.72" y="477.3" width="2.6" height="10.7" fill="#5c5c5c"/>
<rect x="112.41" y="477.3" width="2.6" height="12.7" fill="#5c5c5c"/>
<rect x="116.09" y="477.3" width="2.6" height="14.7" fill="#5c5c5c"/>
<rect x="119.78" y="477.3" width="2.6" height="16.3" fill="#5c5c5c"/>
<rect x="123.46" y="477.3" width="2.6" height="17.7" fill="#5c5c5c"/>
<rect x="127.14" y="477.3" width="2.6" height="16.7" fill="#5c5c5c"/>
<rect x="130.83" y="477.3" width="2.6" height="14.7" fill="#5c5c5c"/>
<rect x="134.51" y="477.3" width="2.6" height="13.7" fill="#5c5c5c"/>
<rect x="138.19" y="477.3" width="2.6" height="14.7" fill="#5c5c5c"/>
<rect x="141.88" y="477.3" width="2.6" height="15.3" fill="#5c5c5c"/>
<rect x="145.56" y="477.3" width="2.6" height="16.7" fill="#5c5c5c"/>
<rect x="149.24" y="477.3" width="2.6" height="16.7" fill="#5c5c5c"/>
<rect x="152.93" y="477.3" width="2.6" height="17.7" fill="#5c5c5c"/>
<rect x="156.61" y="477.3" width="2.6" height="19.7" fill="#5c5c5c"/>
<rect x="160.29" y="477.3" width="2.6" height="22.7" fill="#5c5c5c"/>
<rect x="163.98" y="477.3" width="2.6" height="25.7" fill="#5c5c5c"/>
<rect x="167.66" y="477.3" width="2.6" height="28.3" fill="#5c5c5c"/>
<rect x="171.35" y="477.3" width="2.6" height="29.7" fill="#5c5c5c"/>
<rect x="175.03" y="477.3" width="2.6" height="30.7" fill="#5c5c5c"/>
<rect x="178.71" y="477.3" width="2.6" height="31.7" fill="#5c5c5c"/>
<rect x="182.40" y="477.3" width="2.6" height="38.7" fill="#5c5c5c"/>
<rect x="186.08" y="477.3" width="2.6" height="38.7" fill="#5c5c5c"/>
<rect x="189.76" y="477.3" width="2.6" height="36.2" fill="#5c5c5c"/>
<rect x="193.45" y="477.3" width="2.6" height="32.2" fill="#5c5c5c"/>
<rect x="197.13" y="477.3" width="2.6" height="29.2" fill="#5c5c5c"/>
<rect x="200.81" y="477.3" width="2.6" height="25.7" fill="#5c5c5c"/>
<rect x="204.50" y="477.3" width="2.6" height="23.7" fill="#5c5c5c"/>
<rect x="208.18" y="477.3" width="2.6" height="22.7" fill="#5c5c5c"/>
<rect x="211.87" y="477.3" width="2.6" height="21.7" fill="#5c5c5c"/>
<rect x="215.55" y="477.3" width="2.6" height="19.7" fill="#5c5c5c"/>
<rect x="219.23" y="477.3" width="2.6" height="19.7" fill="#5c5c5c"/>
<rect x="222.92" y="477.3" width="2.6" height="21.7" fill="#5c5c5c"/>
<rect x="226.60" y="477.3" width="2.6" height="21.7" fill="#5c5c5c"/>
<rect x="230.28" y="477.3" width="2.6" height="20.7" fill="#5c5c5c"/>
<rect x="233.97" y="477.3" width="2.6" height="18.7" fill="#5c5c5c"/>
<rect x="237.65" y="477.3" width="2.6" height="17.7" fill="#5c5c5c"/>
<rect x="241.33" y="477.3" width="2.6" height="17.7" fill="#5c5c5c"/>
<rect x="245.02" y="477.3" width="2.6" height="16.7" fill="#5c5c5c"/>
<rect x="248.70" y="477.3" width="2.6" height="16.7" fill="#5c5c5c"/>
<rect x="252.38" y="477.3" width="2.6" height="14.7" fill="#5c5c5c"/>
<rect x="256.07" y="477.3" width="2.6" height="9.7" fill="#5c5c5c"/>
<rect x="259.75" y="477.3" width="2.6" height="5.7" fill="#5c5c5c"/>
<rect x="263.44" y="477.3" width="2.6" height="4.3" fill="#5c5c5c"/>
<rect x="267.12" y="477.3" width="2.6" height="3.7" fill="#5c5c5c"/>
<rect x="270.80" y="477.3" width="2.6" height="3.3" fill="#5c5c5c"/>
<rect x="274.49" y="477.3" width="2.6" height="5.7" fill="#5c5c5c"/>
<rect x="278.17" y="477.3" width="2.6" height="7.7" fill="#5c5c5c"/>
<rect x="281.85" y="477.3" width="2.6" height="11.3" fill="#5c5c5c"/>
<rect x="285.54" y="477.3" width="2.6" height="13.1" fill="#5c5c5c"/>
<rect x="289.22" y="477.3" width="2.6" height="14.3" fill="#5c5c5c"/>
<rect x="292.90" y="477.3" width="2.6" height="15.7" fill="#5c5c5c"/>
<rect x="296.59" y="477.3" width="2.6" height="16.7" fill="#5c5c5c"/>
<rect x="300.27" y="477.3" width="2.6" height="17.7" fill="#5c5c5c"/>
<rect x="303.96" y="477.3" width="2.6" height="22.7" fill="#5c5c5c"/>
<rect x="307.64" y="477.3" width="2.6" height="25.3" fill="#5c5c5c"/>
<rect x="311.32" y="477.3" width="2.6" height="24.7" fill="#5c5c5c"/>
<rect x="315.01" y="477.3" width="2.6" height="26.3" fill="#5c5c5c"/>
<rect x="318.69" y="477.3" width="2.6" height="27.3" fill="#5c5c5c"/>
<rect x="322.37" y="477.3" width="2.6" height="26.7" fill="#5c5c5c"/>
<rect x="326.06" y="477.3" width="2.6" height="26.1" fill="#5c5c5c"/>
<rect x="329.74" y="477.3" width="2.6" height="23.7" fill="#5c5c5c"/>
<rect x="333.42" y="477.3" width="2.6" height="21.7" fill="#5c5c5c"/>
<rect x="337.11" y="477.3" width="2.6" height="20.7" fill="#5c5c5c"/>
<rect x="340.79" y="477.3" width="2.6" height="17.7" fill="#5c5c5c"/>
<rect x="344.47" y="477.3" width="2.6" height="16.7" fill="#5c5c5c"/>
<rect x="348.16" y="477.3" width="2.6" height="13.7" fill="#5c5c5c"/>
<rect x="351.84" y="477.3" width="2.6" height="10.7" fill="#5c5c5c"/>
<rect x="355.53" y="477.3" width="2.6" height="10.3" fill="#5c5c5c"/>
<rect x="359.21" y="477.3" width="2.6" height="9.7" fill="#5c5c5c"/>
<rect x="362.89" y="476.6" width="2.6" height="0.7" fill="#5c5c5c"/>
<rect x="366.58" y="465.0" width="2.6" height="12.3" fill="#5c5c5c"/>
<rect x="370.26" y="453.0" width="2.6" height="24.3" fill="#5c5c5c"/>
<rect x="373.94" y="445.0" width="2.6" height="32.3" fill="#5c5c5c"/>
<rect x="377.63" y="437.0" width="2.6" height="40.3" fill="#5c5c5c"/>
<rect x="381.31" y="435.2" width="2.6" height="42.1" fill="#5c5c5c"/>
<rect x="384.99" y="433.2" width="2.6" height="44.1" fill="#5c5c5c"/>
<rect x="388.68" y="431.0" width="2.6" height="46.3" fill="#5c5c5c"/>
<rect x="392.36" y="430.0" width="2.6" height="47.3" fill="#5c5c5c"/>
<rect x="396.05" y="428.6" width="2.6" height="48.7" fill="#5c5c5c"/>
<rect x="399.73" y="427.4" width="2.6" height="49.9" fill="#5c5c5c"/>
<rect x="403.41" y="427.4" width="2.6" height="49.9" fill="#5c5c5c"/>
<rect x="407.10" y="427.4" width="2.6" height="49.9" fill="#5c5c5c"/>
<rect x="410.78" y="427.4" width="2.6" height="49.9" fill="#5c5c5c"/>
<rect x="414.46" y="430.0" width="2.6" height="47.3" fill="#5c5c5c"/>
<rect x="418.15" y="430.6" width="2.6" height="46.7" fill="#5c5c5c"/>
<rect x="421.83" y="431.0" width="2.6" height="46.3" fill="#5c5c5c"/>
<rect x="425.51" y="434.0" width="2.6" height="43.3" fill="#5c5c5c"/>
<rect x="429.20" y="436.0" width="2.6" height="41.3" fill="#5c5c5c"/>
<rect x="432.88" y="439.4" width="2.6" height="37.9" fill="#5c5c5c"/>
<rect x="436.56" y="449.4" width="2.6" height="27.9" fill="#5c5c5c"/>
<rect x="440.25" y="456.0" width="2.6" height="21.3" fill="#5c5c5c"/>
<rect x="443.93" y="461.4" width="2.6" height="15.9" fill="#5c5c5c"/>
<rect x="447.62" y="464.4" width="2.6" height="12.9" fill="#5c5c5c"/>
<rect x="451.30" y="468.0" width="2.6" height="9.3" fill="#5c5c5c"/>
<rect x="454.98" y="471.0" width="2.6" height="6.3" fill="#5c5c5c"/>
<rect x="458.67" y="472.0" width="2.6" height="5.3" fill="#5c5c5c"/>
<rect x="462.35" y="473.0" width="2.6" height="4.3" fill="#5c5c5c"/>
<rect x="466.03" y="475.0" width="2.6" height="2.3" fill="#5c5c5c"/>
<rect x="469.72" y="477.3" width="2.6" height="0.5" fill="#5c5c5c"/>
<rect x="473.40" y="477.3" width="2.6" height="7.3" fill="#5c5c5c"/>
<rect x="477.08" y="477.3" width="2.6" height="10.7" fill="#5c5c5c"/>
<rect x="480.77" y="477.3" width="2.6" height="11.7" fill="#5c5c5c"/>
<rect x="484.45" y="477.3" width="2.6" height="12.7" fill="#5c5c5c"/>
<rect x="488.14" y="477.3" width="2.6" height="13.7" fill="#5c5c5c"/>
<rect x="491.82" y="477.3" width="2.6" height="13.3" fill="#5c5c5c"/>
<rect x="495.50" y="477.3" width="2.6" height="11.3" fill="#5c5c5c"/>
<rect x="499.19" y="477.3" width="2.6" height="10.1" fill="#5c5c5c"/>
<rect x="502.87" y="477.3" width="2.6" height="9.7" fill="#5c5c5c"/>
<rect x="506.55" y="477.3" width="2.6" height="11.7" fill="#5c5c5c"/>
<rect x="510.24" y="477.3" width="2.6" height="13.7" fill="#5c5c5c"/>
<rect x="513.92" y="477.3" width="2.6" height="15.7" fill="#5c5c5c"/>
<rect x="517.60" y="477.3" width="2.6" height="21.7" fill="#5c5c5c"/>
<rect x="521.29" y="477.3" width="2.6" height="27.7" fill="#5c5c5c"/>
<rect x="524.97" y="477.3" width="2.6" height="31.7" fill="#5c5c5c"/>
<rect x="528.65" y="477.3" width="2.6" height="37.7" fill="#5c5c5c"/>
<rect x="532.34" y="477.3" width="2.6" height="41.3" fill="#5c5c5c"/>
<rect x="536.02" y="477.3" width="2.6" height="47.7" fill="#5c5c5c"/>
<rect x="539.71" y="477.3" width="2.6" height="48.7" fill="#5c5c5c"/>
<rect x="543.39" y="477.3" width="2.6" height="53.7" fill="#5c5c5c"/>
<rect x="547.07" y="477.3" width="2.6" height="55.7" fill="#5c5c5c"/>
<rect x="550.76" y="477.3" width="2.6" height="58.2" fill="#5c5c5c"/>
<rect x="554.44" y="477.3" width="2.6" height="60.2" fill="#5c5c5c"/>
<rect x="558.12" y="477.3" width="2.6" height="61.7" fill="#5c5c5c"/>
<rect x="561.81" y="477.3" width="2.6" height="62.1" fill="#5c5c5c"/>
<rect x="565.49" y="477.3" width="2.6" height="61.7" fill="#5c5c5c"/>
<rect x="569.17" y="477.3" width="2.6" height="58.7" fill="#5c5c5c"/>
<rect x="572.86" y="477.3" width="2.6" height="54.7" fill="#5c5c5c"/>
<rect x="576.54" y="477.3" width="2.6" height="49.7" fill="#5c5c5c"/>
<rect x="580.23" y="477.3" width="2.6" height="44.7" fill="#5c5c5c"/>
<rect x="583.91" y="477.3" width="2.6" height="40.7" fill="#5c5c5c"/>
<rect x="587.59" y="477.3" width="2.6" height="36.7" fill="#5c5c5c"/>
<rect x="591.28" y="477.3" width="2.6" height="32.7" fill="#5c5c5c"/>
<rect x="594.96" y="477.3" width="2.6" height="30.7" fill="#5c5c5c"/>
<rect x="598.64" y="477.3" width="2.6" height="27.1" fill="#5c5c5c"/>
<rect x="602.33" y="477.3" width="2.6" height="20.7" fill="#5c5c5c"/>
<rect x="606.01" y="477.3" width="2.6" height="15.7" fill="#5c5c5c"/>
<rect x="609.69" y="477.3" width="2.6" height="11.7" fill="#5c5c5c"/>
<rect x="613.38" y="477.3" width="2.6" height="9.7" fill="#5c5c5c"/>
<rect x="617.06" y="477.3" width="2.6" height="5.3" fill="#5c5c5c"/>
<rect x="620.74" y="476.0" width="2.6" height="1.3" fill="#5c5c5c"/>
<rect x="624.43" y="472.0" width="2.6" height="5.3" fill="#5c5c5c"/>
<rect x="628.11" y="467.0" width="2.6" height="10.3" fill="#5c5c5c"/>
<rect x="631.80" y="463.6" width="2.6" height="13.7" fill="#5c5c5c"/>
<rect x="635.48" y="461.6" width="2.6" height="15.7" fill="#5c5c5c"/>
<rect x="639.16" y="460.6" width="2.6" height="16.7" fill="#5c5c5c"/>
<rect x="642.85" y="460.6" width="2.6" height="16.7" fill="#5c5c5c"/>
<rect x="646.53" y="460.6" width="2.6" height="16.7" fill="#5c5c5c"/>
<rect x="650.21" y="460.6" width="2.6" height="16.7" fill="#5c5c5c"/>
<rect x="653.90" y="464.0" width="2.6" height="13.3" fill="#5c5c5c"/>
<rect x="657.58" y="467.0" width="2.6" height="10.3" fill="#5c5c5c"/>
<rect x="661.26" y="469.0" width="2.6" height="8.3" fill="#5c5c5c"/>
<rect x="664.95" y="469.0" width="2.6" height="8.3" fill="#5c5c5c"/>
<rect x="668.63" y="470.0" width="2.6" height="7.3" fill="#5c5c5c"/>
<rect x="672.32" y="470.6" width="2.6" height="6.7" fill="#5c5c5c"/>
<rect x="676.00" y="471.6" width="2.6" height="5.7" fill="#5c5c5c"/>
<rect x="679.68" y="472.6" width="2.6" height="4.7" fill="#5c5c5c"/>
<rect x="683.37" y="475.6" width="2.6" height="1.7" fill="#5c5c5c"/>
<rect x="687.05" y="477.3" width="2.6" height="4.3" fill="#5c5c5c"/>
<rect x="690.73" y="477.3" width="2.6" height="8.7" fill="#5c5c5c"/>
<rect x="694.42" y="477.3" width="2.6" height="11.3" fill="#5c5c5c"/>
<rect x="698.10" y="477.3" width="2.6" height="13.1" fill="#5c5c5c"/>
<rect x="701.78" y="477.3" width="2.6" height="14.1" fill="#5c5c5c"/>
<rect x="705.47" y="477.3" width="2.6" height="15.1" fill="#5c5c5c"/>
<rect x="709.15" y="477.3" width="2.6" height="11.3" fill="#5c5c5c"/>
<rect x="712.83" y="477.3" width="2.6" height="15.3" fill="#5c5c5c"/>
<rect x="716.52" y="477.3" width="2.6" height="17.7" fill="#5c5c5c"/>
<rect x="720.20" y="477.3" width="2.6" height="19.7" fill="#5c5c5c"/>
<rect x="723.89" y="477.3" width="2.6" height="23.1" fill="#5c5c5c"/>
<rect x="727.57" y="477.3" width="2.6" height="27.7" fill="#5c5c5c"/>
<rect x="731.25" y="477.3" width="2.6" height="30.1" fill="#5c5c5c"/>
<rect x="734.94" y="477.3" width="2.6" height="31.7" fill="#5c5c5c"/>
<rect x="738.62" y="477.3" width="2.6" height="31.3" fill="#5c5c5c"/>
<rect x="742.30" y="477.3" width="2.6" height="30.7" fill="#5c5c5c"/>
<rect x="745.99" y="477.3" width="2.6" height="28.7" fill="#5c5c5c"/>
<rect x="749.67" y="477.3" width="2.6" height="26.3" fill="#5c5c5c"/>
<rect x="753.35" y="477.3" width="2.6" height="25.7" fill="#5c5c5c"/>
<rect x="757.04" y="477.3" width="2.6" height="28.7" fill="#5c5c5c"/>
<rect x="760.72" y="477.3" width="2.6" height="29.7" fill="#5c5c5c"/>
<rect x="764.41" y="477.3" width="2.6" height="30.1" fill="#5c5c5c"/>
<polyline fill="none" stroke="#ff0000" stroke-width="1.2" stroke-linejoin="round" points="3,490.5 8,485 13,481 17,478.5 23,476.5 29,476.5 33,477.5 40,478.5 45,478.3 50,477 55,475.5 60,473.5 65,471.2 70,470 75,469 80,467.2 85,466.5 90,465.5 94,466 97.5,468 100,469.5 104,471 112,476 120,483 128,489 136,491 144,492 152,492.6 160,495 170,498 180,503 190,508 195,510.2 202,510.2 213,506.6 220,502 230,498.6 242,496.6 254,495 264,490 276,485 284,484 290,485 298,488 308,494 318,498 328,501.4 338,501.6 348,499.4 358,495 366,489 372,482 378,470 384,461 390,453 398,439 404,434 410,431 416,429.4 426,429.4 434,432 442,439 452,449 460,458 468,466 478,474 486,481 496,486 506,488 516,489.4 524,492 532,499 540,507.5 546,516 552,524 560,531 568,535 576,535.6 584,532.4 592,527 600,519 608,509 616,500 624,490 632,480 640,472 648,466 656,463 666,464 676,467 686,471 696,477 706,484 716,490 726,495 740,503 746,505 756,506 765,506.4"/>
</g>
<g stroke="#000" stroke-width="1.1" fill="none">
<path d="M2.4 2.4H963.5V418.2H2.4Z"/>
<path d="M2.4 420.4H963.5V545.2H2.4Z"/>
<path d="M3.20 545.2v3"/>
<path d="M62.14 545.2v3"/>
<path d="M121.08 545.2v3"/>
<path d="M180.01 545.2v3"/>
<path d="M238.95 545.2v3"/>
<path d="M297.89 545.2v3"/>
<path d="M356.83 545.2v3"/>
<path d="M415.76 545.2v3"/>
<path d="M474.70 545.2v3"/>
<path d="M533.64 545.2v3"/>
<path d="M592.58 545.2v3"/>
<path d="M651.51 545.2v3"/>
<path d="M710.45 545.2v3"/>
<path d="M963.5 31.2h2.8"/>
<path d="M963.5 72.7h2.8"/>
<path d="M963.5 114.2h2.8"/>
<path d="M963.5 155.7h2.8"/>
<path d="M963.5 197.2h2.8"/>
<path d="M963.5 238.7h2.8"/>
<path d="M963.5 280.2h2.8"/>
<path d="M963.5 321.7h2.8"/>
<path d="M963.5 363.2h2.8"/>
<path d="M963.5 404.7h2.8"/>
<path d="M963.5 422.4h2.8"/>
<path d="M963.5 477.3h2.8"/>
<path d="M963.5 544.2h2.8"/>
</g>
<g font-family="'Liberation Sans', Arial, sans-serif" font-size="9" fill="#000" stroke="#000" stroke-width="0.18">
<text x="968.7" y="33.7" textLength="25.5" lengthAdjust="spacingAndGlyphs">0.9190</text>
<text x="968.7" y="75.2" textLength="25.5" lengthAdjust="spacingAndGlyphs">0.9175</text>
<text x="968.7" y="116.7" textLength="25.5" lengthAdjust="spacingAndGlyphs">0.9160</text>
<text x="968.7" y="158.2" textLength="25.5" lengthAdjust="spacingAndGlyphs">0.9145</text>
<text x="968.7" y="199.7" textLength="25.5" lengthAdjust="spacingAndGlyphs">0.9130</text>
<text x="968.7" y="241.2" textLength="25.5" lengthAdjust="spacingAndGlyphs">0.9115</text>
<text x="968.7" y="282.7" textLength="25.5" lengthAdjust="spacingAndGlyphs">0.9100</text>
<text x="968.7" y="324.2" textLength="25.5" lengthAdjust="spacingAndGlyphs">0.9085</text>
<text x="968.7" y="365.7" textLength="25.5" lengthAdjust="spacingAndGlyphs">0.9070</text>
<text x="968.7" y="407.2" textLength="25.5" lengthAdjust="spacingAndGlyphs">0.9055</text>
<text x="966.8" y="429.7" textLength="29.4" lengthAdjust="spacingAndGlyphs">0.00181</text>
<text x="966.8" y="479.8" textLength="16.5" lengthAdjust="spacingAndGlyphs">0.00</text>
<text x="966.8" y="542.6" textLength="32" lengthAdjust="spacingAndGlyphs">-0.00216</text>
<rect x="966.1" y="93.0" width="30.8" height="9.8" fill="#ff0000"/>
<text x="968.8" y="101.5" textLength="25.3" lengthAdjust="spacingAndGlyphs" fill="#fff" stroke="#fff">0.9165</text>
<rect x="966.1" y="187.9" width="30.8" height="9.8" fill="#ff0000"/>
<text x="968.8" y="196.4" textLength="25.3" lengthAdjust="spacingAndGlyphs" fill="#fff" stroke="#fff">0.9131</text>
<rect x="966.1" y="244.1" width="30.8" height="9.8" fill="#ff0000"/>
<text x="968.8" y="252.6" textLength="25.3" lengthAdjust="spacingAndGlyphs" fill="#fff" stroke="#fff">0.9111</text>
<rect x="966.1" y="330.5" width="30.8" height="9.8" fill="#ff0000"/>
<text x="968.8" y="339.0" textLength="25.3" lengthAdjust="spacingAndGlyphs" fill="#fff" stroke="#fff">0.9080</text>
<rect x="966.1" y="384.2" width="30.8" height="9.8" fill="#000"/>
<text x="968.8" y="392.7" textLength="25.3" lengthAdjust="spacingAndGlyphs" fill="#fff" stroke="#fff">0.9060</text>
<rect x="966.1" y="401.6" width="30.8" height="9.8" fill="#ff0000"/>
<text x="968.8" y="410.1" textLength="25.3" lengthAdjust="spacingAndGlyphs" fill="#fff" stroke="#fff">0.9054</text>
<path d="M5.4 8.3h7l-3.5 3.7z" fill="#000" stroke="none"/>
<text x="16" y="12.6" textLength="50" lengthAdjust="spacingAndGlyphs">USDCHF,H1</text>
<text x="72.6" y="12.6" textLength="24.8" lengthAdjust="spacingAndGlyphs">0.9057</text>
<text x="101.1" y="12.6" textLength="24.8" lengthAdjust="spacingAndGlyphs">0.9061</text>
<text x="129.6" y="12.6" textLength="24.8" lengthAdjust="spacingAndGlyphs">0.9055</text>
<text x="158.1" y="12.6" textLength="24.8" lengthAdjust="spacingAndGlyphs">0.9060</text>
<text x="6" y="432" textLength="60" lengthAdjust="spacingAndGlyphs">MACD(12,26,9)</text>
<text x="69.8" y="432" textLength="32.6" lengthAdjust="spacingAndGlyphs">-0.00092</text>
<text x="106.2" y="432" textLength="31.5" lengthAdjust="spacingAndGlyphs">-0.00091</text>
<text x="5.8" y="541.6" textLength="47.6" lengthAdjust="spacingAndGlyphs">MetaTrader,</text>
<text x="56.3" y="541.6" textLength="6.9" lengthAdjust="spacingAndGlyphs">©</text>
<text x="65.5" y="541.6" textLength="42.6" lengthAdjust="spacingAndGlyphs">2001-2013,</text>
<text x="111" y="541.6" textLength="46.5" lengthAdjust="spacingAndGlyphs">MetaQuotes</text>
<text x="160.5" y="541.6" textLength="35" lengthAdjust="spacingAndGlyphs">Software</text>
<text x="198.5" y="541.6" textLength="20.5" lengthAdjust="spacingAndGlyphs">Corp.</text>
<text x="2.9" y="557.1" textLength="48" lengthAdjust="spacingAndGlyphs">14 Nov 2013</text>
<text x="61.8" y="557.1" textLength="50.8" lengthAdjust="spacingAndGlyphs">15 Nov 06:00</text>
<text x="120.8" y="557.1" textLength="50.8" lengthAdjust="spacingAndGlyphs">15 Nov 22:00</text>
<text x="179.7" y="557.1" textLength="50.8" lengthAdjust="spacingAndGlyphs">18 Nov 15:00</text>
<text x="238.7" y="557.1" textLength="50.8" lengthAdjust="spacingAndGlyphs">19 Nov 07:00</text>
<text x="297.6" y="557.1" textLength="50.8" lengthAdjust="spacingAndGlyphs">19 Nov 23:00</text>
<text x="356.5" y="557.1" textLength="50.8" lengthAdjust="spacingAndGlyphs">20 Nov 15:00</text>
<text x="415.5" y="557.1" textLength="50.8" lengthAdjust="spacingAndGlyphs">21 Nov 07:00</text>
<text x="474.4" y="557.1" textLength="50.8" lengthAdjust="spacingAndGlyphs">21 Nov 23:00</text>
<text x="533.3" y="557.1" textLength="50.8" lengthAdjust="spacingAndGlyphs">22 Nov 15:00</text>
<text x="592.3" y="557.1" textLength="50.8" lengthAdjust="spacingAndGlyphs">25 Nov 08:00</text>
<text x="651.2" y="557.1" textLength="50.8" lengthAdjust="spacingAndGlyphs">26 Nov 00:00</text>
<text x="710.2" y="557.1" textLength="50.8" lengthAdjust="spacingAndGlyphs">26 Nov 16:00</text>
</g>
</svg>
</body></html>
